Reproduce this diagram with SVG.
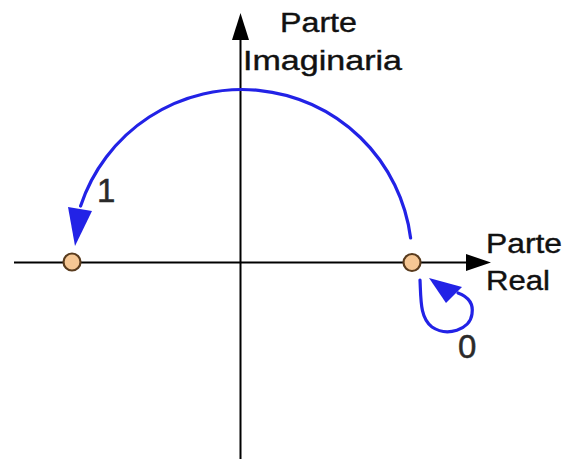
<svg xmlns="http://www.w3.org/2000/svg" width="565" height="459" viewBox="0 0 565 459">
<style>
.axis{stroke:#000;stroke-width:2;fill:none}
.blue{stroke:#2222e6;stroke-width:3.2;fill:none;stroke-linecap:round}
.bluehead{fill:#2222e6}
.pt{fill:#f6c794;stroke:#5a3c1e;stroke-width:2.2}
.lbl{font-family:"Liberation Sans",Arial,sans-serif;font-size:27px;fill:#111;stroke:#111;stroke-width:0.4}
.num{font-family:"Liberation Sans",Arial,sans-serif;font-size:33px;fill:#2a2a2a;stroke:#2a2a2a;stroke-width:0.5}
</style>
<rect width="565" height="459" fill="#fff"/>
<g id="axes">
<line class="axis" x1="240.5" y1="36" x2="240.5" y2="459"/>
<polygon points="240.5,13 232,40 249,40" fill="#000"/>
<line class="axis" x1="14" y1="262.5" x2="470" y2="262.5"/>
<polygon points="491,262.5 466,254 466,271" fill="#000"/>
</g>
<g id="connectors">
<path class="blue" d="M410.6,238 A170,170 0 0 0 80.6,206"/>
<polygon class="bluehead" points="75,246 68,207 92,211"/>
<path class="blue" d="M420,280 C421,300 420,318 432,327 C447,337 470,330 472,314 C474,302 466,296 458,293"/>
<polygon class="bluehead" points="429,278 446,303 462,287"/>
</g>
<g id="point-1"><circle class="pt" cx="72" cy="262" r="8.5"/></g>
<g id="point-0"><circle class="pt" cx="412" cy="262.5" r="8.5"/></g>
<g id="labels">
<text class="lbl" x="280" y="32" textLength="77" lengthAdjust="spacingAndGlyphs">Parte</text>
<text class="lbl" x="243" y="70" textLength="159" lengthAdjust="spacingAndGlyphs">Imaginaria</text>
<text class="lbl" x="486" y="253" textLength="76" lengthAdjust="spacingAndGlyphs">Parte</text>
<text class="lbl" x="486" y="290" textLength="64" lengthAdjust="spacingAndGlyphs">Real</text>
<text class="num" x="97" y="202">1</text>
<text class="num" x="458" y="358">0</text>
</g>
</svg>
